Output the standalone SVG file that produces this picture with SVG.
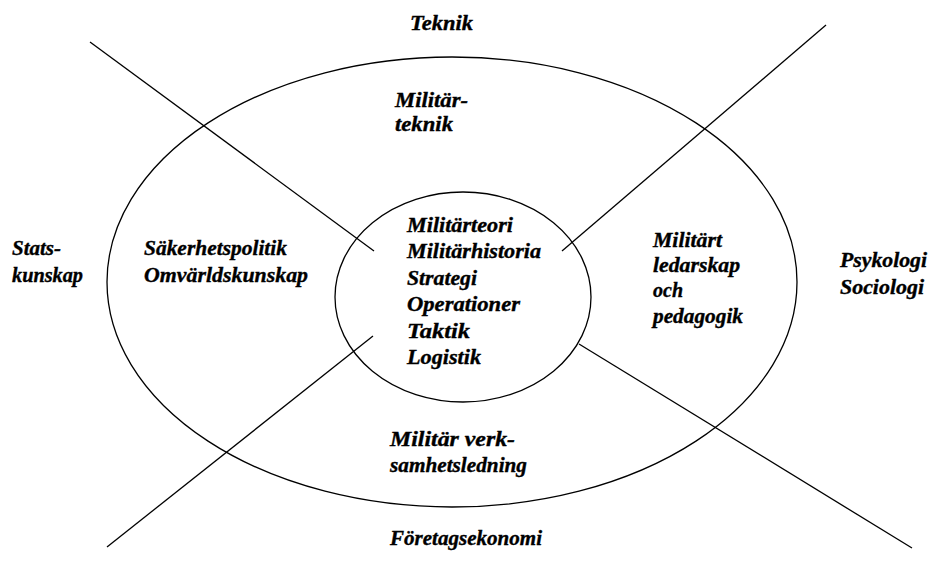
<svg xmlns="http://www.w3.org/2000/svg" width="931" height="567" viewBox="0 0 931 567">
<style>
.t{font-family:"Liberation Serif","Times New Roman",serif;font-weight:bold;font-style:italic;font-size:20px;fill:#000;stroke:#000;stroke-width:0.35}
.s{fill:none;stroke:#000;stroke-width:1.3}
</style>
<rect width="931" height="567" fill="#fff"/>
<g id="connectors">
<line class="s" x1="90" y1="42" x2="374" y2="251"/>
<line class="s" x1="826" y1="25" x2="562" y2="251"/>
<line class="s" x1="107" y1="547" x2="373" y2="336"/>
<line class="s" x1="579" y1="344" x2="912" y2="548"/>
</g>
<g id="outer"><ellipse class="s" cx="452" cy="282" rx="345" ry="225"/></g>
<g id="inner"><ellipse class="s" cx="463" cy="297" rx="128" ry="105"/></g>
<g id="core">
<text class="t" x="407" y="232" textLength="106" lengthAdjust="spacingAndGlyphs">Militärteori</text>
<text class="t" x="407" y="258" textLength="134" lengthAdjust="spacingAndGlyphs">Militärhistoria</text>
<text class="t" x="407" y="285" textLength="70" lengthAdjust="spacingAndGlyphs">Strategi</text>
<text class="t" x="407" y="311" textLength="113" lengthAdjust="spacingAndGlyphs">Operationer</text>
<text class="t" x="407" y="338" textLength="63" lengthAdjust="spacingAndGlyphs">Taktik</text>
<text class="t" x="407" y="364" textLength="74" lengthAdjust="spacingAndGlyphs">Logistik</text>
</g>
<g id="teknik"><text class="t" x="410" y="30" textLength="63" lengthAdjust="spacingAndGlyphs">Teknik</text></g>
<g id="militarteknik">
<text class="t" x="395" y="107" textLength="73" lengthAdjust="spacingAndGlyphs">Militär-</text>
<text class="t" x="395" y="131" textLength="58" lengthAdjust="spacingAndGlyphs">teknik</text>
</g>
<g id="statskunskap">
<text class="t" x="12" y="255" textLength="49" lengthAdjust="spacingAndGlyphs">Stats-</text>
<text class="t" x="12" y="282" textLength="71" lengthAdjust="spacingAndGlyphs">kunskap</text>
</g>
<g id="sakerhetspolitik">
<text class="t" x="144" y="255" textLength="143" lengthAdjust="spacingAndGlyphs">Säkerhetspolitik</text>
<text class="t" x="144" y="282" textLength="164" lengthAdjust="spacingAndGlyphs">Omvärldskunskap</text>
</g>
<g id="ledarskap">
<text class="t" x="653" y="247" textLength="69" lengthAdjust="spacingAndGlyphs">Militärt</text>
<text class="t" x="653" y="272" textLength="87" lengthAdjust="spacingAndGlyphs">ledarskap</text>
<text class="t" x="653" y="297" textLength="30" lengthAdjust="spacingAndGlyphs">och</text>
<text class="t" x="653" y="323" textLength="90" lengthAdjust="spacingAndGlyphs">pedagogik</text>
</g>
<g id="psykologi">
<text class="t" x="840" y="267" textLength="87" lengthAdjust="spacingAndGlyphs">Psykologi</text>
<text class="t" x="840" y="294" textLength="84" lengthAdjust="spacingAndGlyphs">Sociologi</text>
</g>
<g id="verksamhetsledning">
<text class="t" x="390" y="446" textLength="125" lengthAdjust="spacingAndGlyphs">Militär verk-</text>
<text class="t" x="390" y="472" textLength="137" lengthAdjust="spacingAndGlyphs">samhetsledning</text>
</g>
<g id="foretagsekonomi"><text class="t" x="390" y="545" textLength="152" lengthAdjust="spacingAndGlyphs">Företagsekonomi</text></g>
</svg>
